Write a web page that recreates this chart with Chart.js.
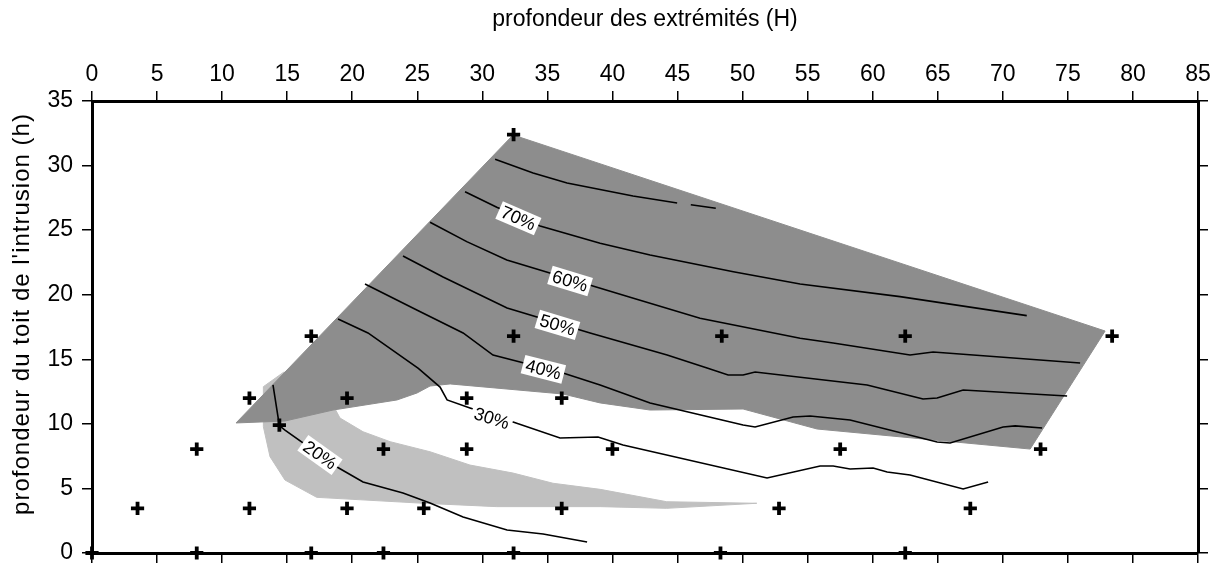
<!DOCTYPE html>
<html>
<head>
<meta charset="utf-8">
<script src="https://cdn.jsdelivr.net/npm/chart.js@4.4.1/dist/chart.umd.min.js"></script>
<style>
    html, body { margin: 0; padding: 0; background: #fff; }
</style>
</head>
<body>
<canvas id="contour-chart" width="1221" height="568"></canvas>
<script>
(function () {
    "use strict";

    // Tick labels
    var hTicks = [0, 5, 10, 15, 20, 25, 30, 35, 40, 45, 50, 55, 60, 65, 70, 75, 80, 85];
    var vTicks = [0, 5, 10, 15, 20, 25, 30, 35];

    // Sample points (crosses)
    var pointsH = [0, 8.05, 16.85, 22.4, 32.4, 48.3, 62.5,
                   3.5, 12.1, 19.6, 25.5, 36.1, 52.8, 67.5,
                   8.05, 22.4, 28.8, 40, 57.5, 72.9,
                   14.4,
                   12.1, 19.6, 28.8, 36.1,
                   16.85, 32.4, 48.4, 62.5, 78.4,
                   32.4];
    var pointsh = [0, 0, 0, 0, 0, 0, 0,
                   3.45, 3.45, 3.45, 3.45, 3.45, 3.45, 3.45,
                   8.05, 8.05, 8.05, 8.05, 8.05, 8.05,
                   9.9,
                   12.0, 12.0, 12.0, 12.0,
                   16.8, 16.8, 16.8, 16.8, 16.8,
                   32.4];

    // Zones
    var darkH = [32.36, 77.86, 72.1, 55.73, 50.04, 42.89, 39.05, 36.2, 27.52, 25.98, 24.98, 23.44, 18.52, 14.83, 11.07, 32.36];
    var darkh = [32.37, 17.19, 8.05, 9.6, 11.15, 11.07, 11.62, 12.31, 13.09, 12.93, 12.39, 11.85, 11.07, 10.22, 10.07, 32.37];

    var lightH = [13.17, 14.76, 18.52, 19.06, 20.83, 22.91, 25.98, 29.05, 32.36, 35.43, 39.05, 44.17, 51.09,
                  44.17, 39.05, 31.1, 25.46, 17.27, 14.83, 13.68, 13.17, 13.17];
    var lighth = [12.88, 14.02, 11.46, 10.45, 9.39, 8.62, 7.84, 6.81, 6.19, 5.4, 4.93, 3.97, 3.85,
                  3.46, 3.59, 3.59, 3.85, 4.31, 5.65, 7.46, 9.78, 12.88];

    // Contour lines
    var c20H = [13.91, 14.4, 14.83, 18.83, 20.83, 23.9, 25.98, 28.52, 31.9, 34.67, 38.05];
    var c20h = [13.01, 9.86, 9.52, 6.66, 5.5, 4.65, 3.87, 2.79, 1.78, 1.47, 0.85];

    var c30H = [18.91, 21.21, 25.08, 26.75, 27.29, 29.05, 32.36, 35.97, 38.89, 40.81, 51.88, 55.96, 56.96, 58.26, 60.03, 61.11, 62.87, 66.95, 68.87];
    var c30h = [18.12, 17.04, 14.3, 12.85, 11.85, 11.23, 10.14, 8.91, 8.98, 8.36, 5.81, 6.74, 6.74, 6.5, 6.58, 6.27, 6.04, 4.96, 5.5];

    var c40H = [20.98, 24.96, 28.52, 30.82, 32.9, 36.2, 39.05, 42.89, 50.04, 50.96, 53.88, 55.19, 58.26, 64.95, 65.95, 70.02, 70.95, 73.02];
    var c40h = [20.83, 18.82, 17.04, 15.33, 14.79, 13.94, 13.01, 11.62, 9.91, 9.76, 10.53, 10.61, 10.3, 8.6, 8.52, 9.76, 9.84, 9.68];

    var c50H = [23.9, 26.98, 31.9, 38.28, 44.2, 47.27, 48.89, 50.04, 50.96, 59.57, 63.87, 64.95, 66.95, 74.94];
    var c50h = [23.0, 21.37, 18.97, 17.04, 15.33, 14.33, 13.78, 13.78, 14.02, 13.01, 11.93, 12.0, 12.62, 12.16];

    var c60H = [25.98, 28.8, 31.88, 41.61, 46.73, 54.42, 56.96, 62.87, 64.64, 75.94];
    var c60h = [25.61, 24.11, 22.69, 19.72, 18.17, 16.63, 16.26, 15.33, 15.56, 14.71];

    var c70H = [28.67, 31.11, 34.44, 39.05, 42.89, 49.29, 54.42, 62.1, 71.84];
    var c70h = [27.98, 26.77, 25.32, 23.98, 23.08, 21.78, 20.83, 19.85, 18.38];

    var c80H = [30.98, 33.9, 36.51, 41.58, 44.97, null, 46.02, 47.94];
    var c80h = [30.49, 29.43, 28.65, 27.64, 27.1, null, 26.97, 26.69];

    // Contour labels
    var labelText = ["70%", "60%", "50%", "40%", "30%", "20%"];
    var labelH = [32.77, 36.74, 35.77, 34.69, 30.72, 17.52];
    var labelh = [25.92, 21.06, 17.66, 14.22, 10.43, 7.59];
    var labelLines = [[c70H, c70h], [c60H, c60h], [c50H, c50h], [c40H, c40h], [c30H, c30h], [c20H, c20h]];

    var xTitle = "profondeur des extrémités (H)";
    var yTitle = "profondeur du toit de l'intrusion (h)";

    function pairs(hs, vs) {
        return hs.map(function (h, i) {
            return {x: h, y: vs[i]};
        });
    }

    // Chart Global
    var FONT = '"Liberation Sans", Arial, sans-serif';
    Chart.defaults.font.family = FONT;
    Chart.defaults.color = "#000000";

    var gridOpts = {drawOnChartArea: false, drawTicks: true, tickLength: 10, color: "#000", lineWidth: 1.5};
    var borderOpts = {display: true, color: "#000", width: 3};

    // fixed axis boxes, no extra room for end labels
    function fixSize(size) {
        return function (s) {
            if (s.isHorizontal()) {
                s.height = size;
            } else {
                s.width = size;
            }
            s.paddingTop = 0;
            s.paddingBottom = 0;
            s.paddingLeft = 0;
            s.paddingRight = 0;
        };
    }

    function setTicks(list) {
        return function (s) {
            s.ticks = list.map(function (v) { return {value: v}; });
        };
    }

    function contourSet(hs, vs) {
        return {
            data: pairs(hs, vs),
            showLine: true,
            pointRadius: 0,
            borderColor: "#000",
            borderWidth: 1.6,
            fill: false,
            order: 1
        };
    }

    // labels on the contours, turned along the line
    var contourLabels = {
        id: "contourLabels",
        afterDatasetsDraw: function (chart) {
            var ctx = chart.ctx, xs = chart.scales.x, ys = chart.scales.y;
            ctx.save();
            ctx.font = "18px " + FONT;
            ctx.textAlign = "center";
            ctx.textBaseline = "middle";
            labelText.forEach(function (txt, i) {
                var lh = labelLines[i][0], lv = labelLines[i][1];
                var j = 1;
                while (j < lh.length - 1 && lh[j] < labelH[i]) j++;
                var ang = Math.atan2(
                    ys.getPixelForValue(lv[j]) - ys.getPixelForValue(lv[j - 1]),
                    xs.getPixelForValue(lh[j]) - xs.getPixelForValue(lh[j - 1]));
                var w = ctx.measureText(txt).width + 6;
                ctx.save();
                ctx.translate(xs.getPixelForValue(labelH[i]), ys.getPixelForValue(labelh[i]));
                ctx.rotate(ang);
                ctx.fillStyle = "#fff";
                ctx.fillRect(-w / 2, -9.5, w, 19);
                ctx.fillStyle = "#000";
                ctx.fillText(txt, 0, 1);
                ctx.restore();
            });
            ctx.restore();
        }
    };

    // vertical axis title
    var sideTitle = {
        id: "sideTitle",
        afterDraw: function (chart) {
            var ctx = chart.ctx, area = chart.chartArea;
            ctx.save();
            ctx.translate(22, (area.top + area.bottom) / 2 - 13);
            ctx.rotate(-Math.PI / 2);
            ctx.font = "24px " + FONT;
            ctx.letterSpacing = "1px";
            ctx.fillStyle = "#000";
            ctx.textAlign = "center";
            ctx.textBaseline = "middle";
            ctx.fillText(yTitle, 0, 0);
            ctx.restore();
        }
    };

    var ctx1 = document.getElementById("contour-chart").getContext("2d");
    var myChart1 = new Chart(ctx1, {
        type: "scatter",
        data: {
            datasets: [
                {
                    data: pairs(pointsH, pointsh),
                    pointStyle: "cross",
                    pointRadius: 6.6,
                    pointBorderWidth: 3.8,
                    borderColor: "#000",
                    clip: false,
                    order: 0
                },
                contourSet(c20H, c20h),
                contourSet(c30H, c30h),
                contourSet(c40H, c40h),
                contourSet(c50H, c50h),
                contourSet(c60H, c60h),
                contourSet(c70H, c70h),
                contourSet(c80H, c80h),
                {
                    data: pairs(darkH, darkh),
                    showLine: true,
                    pointRadius: 0,
                    borderWidth: 1,
                    borderColor: "rgb(141,141,141)",
                    backgroundColor: "rgb(141,141,141)",
                    fill: "shape",
                    order: 2
                },
                {
                    data: pairs(lightH, lighth),
                    showLine: true,
                    pointRadius: 0,
                    borderWidth: 1,
                    borderColor: "rgb(192,192,192)",
                    backgroundColor: "rgb(192,192,192)",
                    fill: "shape",
                    order: 3
                }
            ]
        },
        options: {
            responsive: false,
            animation: false,
            layout: {padding: 0},
            plugins: {
                legend: {display: false},
                tooltip: {enabled: false}
            },
            scales: {
                x: {
                    type: "linear",
                    position: "top",
                    min: 0,
                    max: 85,
                    afterBuildTicks: setTicks(hTicks),
                    ticks: {font: {size: 23}, padding: 3, maxRotation: 0, autoSkip: false},
                    grid: gridOpts,
                    border: borderOpts,
                    title: {display: true, text: xTitle, font: {size: 23}, padding: {top: 6, bottom: 0}},
                    afterFit: fixSize(101)
                },
                x2: {
                    type: "linear",
                    position: "bottom",
                    min: 0,
                    max: 85,
                    afterBuildTicks: setTicks(hTicks),
                    ticks: {display: false},
                    grid: gridOpts,
                    border: borderOpts,
                    afterFit: fixSize(15)
                },
                y: {
                    type: "linear",
                    position: "left",
                    min: 0,
                    max: 35,
                    afterBuildTicks: setTicks(vTicks),
                    ticks: {font: {size: 23}, padding: 9},
                    grid: gridOpts,
                    border: borderOpts,
                    afterFit: fixSize(92)
                },
                y2: {
                    type: "linear",
                    position: "right",
                    min: 0,
                    max: 35,
                    afterBuildTicks: setTicks(vTicks),
                    ticks: {display: false},
                    grid: gridOpts,
                    border: borderOpts,
                    afterFit: fixSize(23)
                }
            }
        },
        plugins: [contourLabels, sideTitle]
    });

})();
</script>
</body>
</html>
